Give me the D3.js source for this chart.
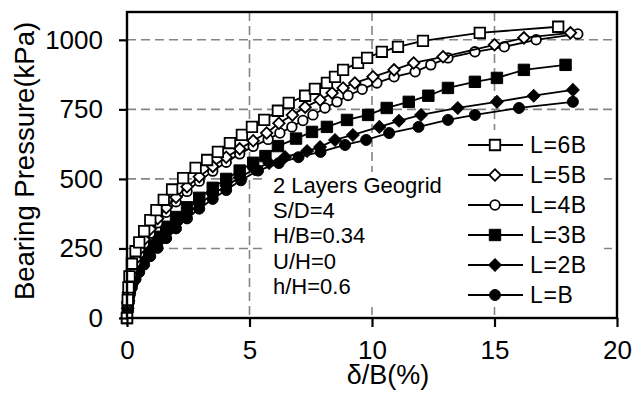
<!DOCTYPE html>
<html>
<head>
  <meta charset="UTF-8">
  <title>Bearing pressure vs settlement</title>
  <style>
    body { margin: 0; background: #fff; }
    svg { display: block; font-family: "Liberation Sans", Arial, sans-serif; }
  </style>
</head>
<body>
<svg></svg>
<script src="https://d3js.org/d3.v7.min.js"></script>
<script>
    let width = 644, height = 396;

    // settlement ratio d/B (%) and bearing pressure (kPa)
    const x6B = [0, 0.03, 0.06, 0.1, 0.2, 0.35, 0.5, 0.7, 0.95, 1.2, 1.5, 1.84, 2.29, 2.8, 3.27, 3.71, 4.2, 4.69, 5.1, 5.6, 6.16, 6.6, 7.27, 7.67, 8.16, 8.49, 8.82, 9.43, 9.8, 10.4, 11.06, 12.08, 14.4, 17.6];
    const p6B = [0, 65, 110, 150, 195, 240, 272, 312, 352, 388, 425, 462, 503, 540, 568, 597, 629, 658, 687, 712, 745, 773, 799, 824, 845, 867, 892, 917, 935, 957, 975, 996, 1025, 1047];

    const x5B = [0, 0.03, 0.06, 0.1, 0.2, 0.35, 0.5, 0.7, 0.95, 1.25, 1.6, 2.0, 2.45, 2.95, 3.5, 4.05, 4.6, 5.15, 5.7, 6.2, 6.75, 7.27, 7.88, 8.37, 8.82, 9.3, 10.04, 10.9, 11.7, 12.9, 15.0, 16.2, 18.1];
    const p5B = [0, 55, 92, 128, 170, 212, 245, 282, 320, 358, 396, 434, 472, 508, 545, 578, 608, 637, 665, 700, 730, 758, 784, 809, 827, 845, 867, 892, 917, 939, 982, 1007, 1025];

    const x4B = [0, 0.03, 0.06, 0.1, 0.2, 0.35, 0.5, 0.7, 0.95, 1.25, 1.6, 2.0, 2.45, 2.95, 3.5, 4.05, 4.6, 5.15, 5.76, 6.24, 6.73, 7.18, 7.59, 8.08, 8.57, 9.02, 9.6, 10.2, 10.9, 11.76, 12.4, 13.1, 14.2, 15.4, 16.7, 18.4];
    const p4B = [0, 50, 85, 120, 160, 200, 232, 268, 305, 342, 380, 418, 455, 492, 528, 560, 590, 617, 642, 665, 687, 710, 730, 755, 777, 800, 822, 845, 867, 885, 910, 935, 957, 975, 1000, 1021];

    const x3B = [0, 0.03, 0.06, 0.1, 0.2, 0.35, 0.5, 0.7, 0.95, 1.25, 1.6, 2.0, 2.45, 2.95, 3.5, 4.05, 4.6, 5.15, 5.65, 6.16, 6.9, 7.55, 8.16, 8.98, 9.84, 10.6, 11.5, 12.3, 13.1, 14.2, 15.1, 16.2, 17.9];
    const p3B = [0, 40, 70, 100, 135, 170, 198, 228, 260, 292, 328, 363, 398, 432, 468, 500, 530, 558, 582, 618, 645, 669, 687, 712, 730, 755, 777, 799, 827, 849, 863, 892, 910];

    const x2B = [0, 0.03, 0.06, 0.1, 0.2, 0.35, 0.5, 0.7, 0.95, 1.25, 1.6, 2.0, 2.45, 2.95, 3.5, 4.05, 4.6, 5.2, 5.8, 6.45, 7.35, 7.88, 8.49, 9.22, 10.3, 11.1, 12.0, 13.5, 15.1, 16.6, 18.2];
    const p2B = [0, 35, 62, 90, 122, 155, 180, 208, 240, 270, 305, 340, 375, 410, 445, 475, 505, 535, 557, 579, 600, 615, 640, 658, 687, 709, 730, 755, 777, 799, 820];

    const xB = [0, 0.03, 0.06, 0.1, 0.2, 0.35, 0.5, 0.7, 0.95, 1.25, 1.6, 2.0, 2.45, 2.95, 3.5, 4.05, 4.65, 5.35, 6.2, 7.0, 7.9, 8.9, 9.76, 10.7, 11.9, 13.1, 14.2, 16.0, 18.2];
    const pB = [0, 30, 55, 80, 110, 140, 165, 192, 222, 252, 287, 322, 358, 393, 428, 460, 495, 530, 557, 578, 597, 622, 640, 665, 687, 712, 730, 755, 777];

    const seriesNames = ["L=6B", "L=5B", "L=4B", "L=3B", "L=2B", "L=B"];
    const xTicks = [0, 5, 10, 15, 20];
    const yTicks = [0, 250, 500, 750, 1000];
    const noteLines = ["2 Layers Geogrid", "S/D=4", "H/B=0.34", "U/H=0", "h/H=0.6"];

    const series = [
        { name: seriesNames[0], xs: x6B, ys: p6B, shape: "square", filled: false },
        { name: seriesNames[1], xs: x5B, ys: p5B, shape: "diamond", filled: false },
        { name: seriesNames[2], xs: x4B, ys: p4B, shape: "circle", filled: false },
        { name: seriesNames[3], xs: x3B, ys: p3B, shape: "square", filled: true },
        { name: seriesNames[4], xs: x2B, ys: p2B, shape: "diamond", filled: true },
        { name: seriesNames[5], xs: xB, ys: pB, shape: "circle", filled: true }
    ];

    let svg = d3.select("svg")
        .attr("width", width)
        .attr("height", height);

    let x = d3.scaleLinear().domain([0, 20]).range([127, 617]);
    let y = d3.scaleLinear().domain([0, 1100]).range([318, 12]);

    // dashed grid
    let grid = svg.append("g")
        .attr("stroke", "#858585")
        .attr("stroke-width", 1.6)
        .attr("stroke-dasharray", "9,5");
    grid.selectAll("line.v")
        .data(xTicks.slice(1, -1))
        .join("line")
        .attr("class", "v")
        .attr("x1", d => x(d)).attr("x2", d => x(d))
        .attr("y1", y(1100)).attr("y2", y(0));
    grid.selectAll("line.h")
        .data(yTicks.slice(1))
        .join("line")
        .attr("class", "h")
        .attr("x1", x(0)).attr("x2", x(20))
        .attr("y1", d => y(d)).attr("y2", d => y(d));

    // white boxes behind the note and the legend
    svg.append("rect")
        .attr("x", 263).attr("y", 172)
        .attr("width", 199).attr("height", 135)
        .attr("fill", "#fff");
    svg.append("rect")
        .attr("x", 462).attr("y", 130)
        .attr("width", 142).attr("height", 177)
        .attr("fill", "#fff");

    function drawMarker(sel, s) {
        let size, type = d3.symbolSquare, rot = 0;
        if (s.shape == "square") size = s.filled ? 130 : 110;
        if (s.shape == "circle") { type = d3.symbolCircle; size = s.filled ? Math.PI * 30 : Math.PI * 23; }
        if (s.shape == "diamond") { size = s.filled ? 80 : 66; rot = 45; }
        sel.append("path")
            .attr("d", d3.symbol().type(type).size(size)())
            .attr("transform", d => "translate(" + d.cx + "," + d.cy + ") rotate(" + rot + ")")
            .attr("fill", s.filled ? "#000" : "#fff")
            .attr("stroke", "#000")
            .attr("stroke-width", s.filled ? 1 : 1.8);
    }

    let line = d3.line()
        .x(d => x(d[0]))
        .y(d => y(d[1]));

    // filled series underneath, open ones on top
    series.slice().reverse().forEach(s => {
        let pts = s.xs.map((v, i) => [v, s.ys[i]]);
        let g = svg.append("g");
        g.append("path")
            .datum(pts)
            .attr("d", line)
            .attr("fill", "none")
            .attr("stroke", "#000")
            .attr("stroke-width", 1.8);
        let m = g.selectAll("g")
            .data(pts.map(p => ({ cx: x(p[0]), cy: y(p[1]) })))
            .join("g");
        drawMarker(m, s);
    });

    // frame
    svg.append("rect")
        .attr("x", x(0)).attr("y", y(1100))
        .attr("width", x(20) - x(0)).attr("height", y(0) - y(1100))
        .attr("fill", "none")
        .attr("stroke", "#000")
        .attr("stroke-width", 2.4);

    // axes
    let yAxis = svg.append("g")
        .attr("transform", "translate(" + x(0) + ",0)")
        .call(d3.axisLeft(y).tickValues(yTicks).tickFormat(d3.format("d")).tickSize(8).tickPadding(16));
    let xAxis = svg.append("g")
        .attr("transform", "translate(0," + y(0) + ")")
        .call(d3.axisBottom(x).tickValues(xTicks).tickFormat(d3.format("d")).tickSize(9).tickPadding(14));
    [xAxis, yAxis].forEach(a => {
        a.select(".domain").remove();
        a.selectAll("line").attr("stroke", "#000").attr("stroke-width", 2.2);
        a.selectAll("text")
            .attr("fill", "#000")
            .style("font-family", "'Liberation Sans', Arial, sans-serif")
            .style("font-size", "26px");
    });

    // axis titles
    svg.append("text")
        .attr("transform", "translate(34,161) rotate(-90)")
        .attr("text-anchor", "middle")
        .style("font-size", "27.5px")
        .text("Bearing Pressure(kPa)");
    svg.append("text")
        .attr("x", 388).attr("y", 384)
        .attr("text-anchor", "middle")
        .style("font-size", "27px")
        .text("δ/B(%)");

    // note
    svg.append("g").selectAll("text")
        .data(noteLines)
        .join("text")
        .attr("x", 273)
        .attr("y", (d, i) => 193 + i * 25.2)
        .style("font-size", "22px")
        .text(d => d);

    // legend
    let legend = svg.selectAll("g.legend")
        .data(series)
        .join("g")
        .attr("class", "legend");
    legend.append("line")
        .attr("x1", 468).attr("x2", 523)
        .attr("y1", (d, i) => 145 + i * 30).attr("y2", (d, i) => 145 + i * 30)
        .attr("stroke", "#000")
        .attr("stroke-width", 1.8);
    legend.each(function (s, i) {
        let m = d3.select(this).selectAll("g")
            .data([{ cx: 495, cy: 145 + i * 30 }])
            .join("g");
        drawMarker(m, s);
    });
    legend.append("text")
        .attr("x", 530)
        .attr("y", (d, i) => 145 + i * 30)
        .attr("dy", "0.36em")
        .style("font-size", "23px")
        .style("letter-spacing", "0.6px")
        .text(d => d.name);
</script>
</body>
</html>
